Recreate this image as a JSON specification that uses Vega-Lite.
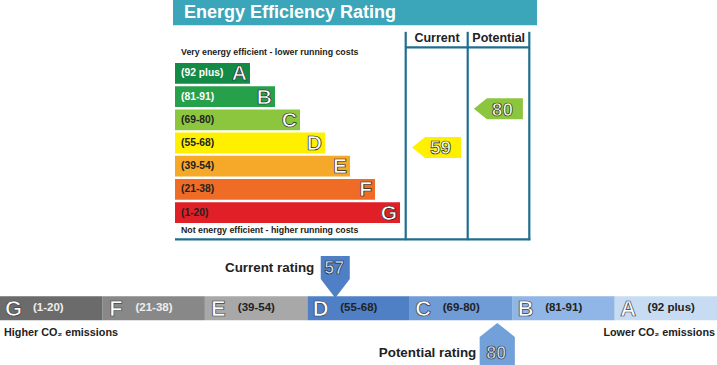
{
  "$schema": "https://vega.github.io/schema/vega-lite/v6.json",
  "width": 717,
  "height": 365,
  "autosize": {"type": "fit", "contains": "padding"},
  "padding": 0,
  "background": "white",
  "config": {
    "view": {"stroke": null},
    "axis": {"disable": true},
    "legend": {"disable": true},
    "font": "Liberation Sans",
    "text": {"font": "Liberation Sans"}
  },
  "datasets": {
    "bands": [
      {"band": "A", "range": "(92 plus)", "length": 75},
      {"band": "B", "range": "(81-91)", "length": 100},
      {"band": "C", "range": "(69-80)", "length": 125},
      {"band": "D", "range": "(55-68)", "length": 150},
      {"band": "E", "range": "(39-54)", "length": 175},
      {"band": "F", "range": "(21-38)", "length": 200},
      {"band": "G", "range": "(1-20)", "length": 225}
    ],
    "efficiency": [
      {"column": "Current", "score": 59, "band": "D"},
      {"column": "Potential", "score": 80, "band": "C"}
    ],
    "environmental": [
      {"kind": "current", "label": "Current rating", "score": 57, "band": "D"},
      {"kind": "potential", "label": "Potential rating", "score": 80, "band": "C"}
    ]
  },
  "resolve": {"scale": {"x": "independent", "y": "independent", "color": "independent", "shape": "independent", "fill": "independent"}},
  "layer": [
    {
      "data": {"values": [{}]},
      "layer": [
        {
          "mark": {"type": "rect", "color": "#3ba6b9"},
          "encoding": {
            "x": {"datum": 173, "type": "quantitative", "scale": {"domain": [0, 717], "nice": false, "zero": false}},
            "x2": {"datum": 537},
            "y": {"datum": 0, "type": "quantitative", "scale": {"domain": [0, 365], "reverse": true, "nice": false, "zero": false}},
            "y2": {"datum": 25.5}
          }
        },
        {
          "mark": {"type": "text", "text": "Energy Efficiency Rating", "align": "left", "baseline": "middle", "fontSize": 18, "fontWeight": "bold", "fill": "white"},
          "encoding": {
            "x": {"datum": 184, "type": "quantitative", "scale": {"domain": [0, 717], "nice": false, "zero": false}},
            "y": {"datum": 13, "type": "quantitative", "scale": {"domain": [0, 365], "reverse": true, "nice": false, "zero": false}}
          }
        },
        {
          "mark": {"type": "rule", "color": "#1f6e91", "strokeWidth": 2.2},
          "encoding": {
            "x": {"datum": 405.7, "type": "quantitative", "scale": {"domain": [0, 717], "nice": false, "zero": false}},
            "y": {"datum": 32, "type": "quantitative", "scale": {"domain": [0, 365], "reverse": true, "nice": false, "zero": false}},
            "y2": {"datum": 241.5}
          }
        },
        {
          "mark": {"type": "rule", "color": "#1f6e91", "strokeWidth": 2.2},
          "encoding": {
            "x": {"datum": 467.7, "type": "quantitative", "scale": {"domain": [0, 717], "nice": false, "zero": false}},
            "y": {"datum": 32, "type": "quantitative", "scale": {"domain": [0, 365], "reverse": true, "nice": false, "zero": false}},
            "y2": {"datum": 241.5}
          }
        },
        {
          "mark": {"type": "rule", "color": "#1f6e91", "strokeWidth": 2.2},
          "encoding": {
            "x": {"datum": 529.3, "type": "quantitative", "scale": {"domain": [0, 717], "nice": false, "zero": false}},
            "y": {"datum": 32, "type": "quantitative", "scale": {"domain": [0, 365], "reverse": true, "nice": false, "zero": false}},
            "y2": {"datum": 241.5}
          }
        },
        {
          "mark": {"type": "rule", "color": "#1f6e91", "strokeWidth": 2.2},
          "encoding": {
            "x": {"datum": 405.7, "type": "quantitative", "scale": {"domain": [0, 717], "nice": false, "zero": false}},
            "x2": {"datum": 529.3},
            "y": {"datum": 47.7, "type": "quantitative", "scale": {"domain": [0, 365], "reverse": true, "nice": false, "zero": false}}
          }
        },
        {
          "mark": {"type": "rule", "color": "#1f6e91", "strokeWidth": 2.2},
          "encoding": {
            "x": {"datum": 175, "type": "quantitative", "scale": {"domain": [0, 717], "nice": false, "zero": false}},
            "x2": {"datum": 530.3},
            "y": {"datum": 240.7, "type": "quantitative", "scale": {"domain": [0, 365], "reverse": true, "nice": false, "zero": false}}
          }
        },
        {
          "mark": {"type": "text", "text": "Current", "align": "center", "baseline": "middle", "fontSize": 12.5, "fontWeight": "bold", "fill": "#222"},
          "encoding": {
            "x": {"datum": 437, "type": "quantitative", "scale": {"domain": [0, 717], "nice": false, "zero": false}},
            "y": {"datum": 38.5, "type": "quantitative", "scale": {"domain": [0, 365], "reverse": true, "nice": false, "zero": false}}
          }
        },
        {
          "mark": {"type": "text", "text": "Potential", "align": "center", "baseline": "middle", "fontSize": 12.5, "fontWeight": "bold", "fill": "#222"},
          "encoding": {
            "x": {"datum": 498.7, "type": "quantitative", "scale": {"domain": [0, 717], "nice": false, "zero": false}},
            "y": {"datum": 38.5, "type": "quantitative", "scale": {"domain": [0, 365], "reverse": true, "nice": false, "zero": false}}
          }
        },
        {
          "mark": {"type": "text", "text": "Very energy efficient - lower running costs", "align": "left", "baseline": "middle", "fontSize": 8.8, "fontWeight": "bold", "fill": "#222"},
          "encoding": {
            "x": {"datum": 181, "type": "quantitative", "scale": {"domain": [0, 717], "nice": false, "zero": false}},
            "y": {"datum": 52.7, "type": "quantitative", "scale": {"domain": [0, 365], "reverse": true, "nice": false, "zero": false}}
          }
        },
        {
          "mark": {"type": "text", "text": "Not energy efficient - higher running costs", "align": "left", "baseline": "middle", "fontSize": 8.8, "fontWeight": "bold", "fill": "#222"},
          "encoding": {
            "x": {"datum": 181, "type": "quantitative", "scale": {"domain": [0, 717], "nice": false, "zero": false}},
            "y": {"datum": 231, "type": "quantitative", "scale": {"domain": [0, 365], "reverse": true, "nice": false, "zero": false}}
          }
        },
        {
          "mark": {"type": "text", "text": "Higher CO₂ emissions", "align": "left", "baseline": "middle", "fontSize": 10.8, "fontWeight": "bold", "fill": "#222"},
          "encoding": {
            "x": {"datum": 4, "type": "quantitative", "scale": {"domain": [0, 717], "nice": false, "zero": false}},
            "y": {"datum": 335, "type": "quantitative", "scale": {"domain": [0, 365], "reverse": true, "nice": false, "zero": false}}
          }
        },
        {
          "mark": {"type": "text", "text": "Lower CO₂ emissions", "align": "right", "baseline": "middle", "fontSize": 10.8, "fontWeight": "bold", "fill": "#222"},
          "encoding": {
            "x": {"datum": 715, "type": "quantitative", "scale": {"domain": [0, 717], "nice": false, "zero": false}},
            "y": {"datum": 335, "type": "quantitative", "scale": {"domain": [0, 365], "reverse": true, "nice": false, "zero": false}}
          }
        }
      ]
    },
    {
      "data": {"name": "bands"},
      "encoding": {
        "y": {"field": "band", "type": "nominal", "scale": {"domain": ["A", "B", "C", "D", "E", "F", "G"], "range": [63, 223], "paddingInner": 0.1, "paddingOuter": 0}}
      },
      "layer": [
        {
          "mark": {"type": "bar"},
          "encoding": {
            "x": {"field": "length", "type": "quantitative", "scale": {"domain": [-175, 542], "nice": false, "zero": false}},
            "color": {"field": "band", "type": "nominal", "scale": {"domain": ["A", "B", "C", "D", "E", "F", "G"], "range": ["#138a46", "#26a04a", "#8cc63f", "#fff000", "#f6a829", "#ee6c25", "#e11f27"]}}
          }
        },
        {
          "mark": {"type": "text", "align": "left", "baseline": "middle", "dx": 6, "fontSize": 10.3, "fontWeight": "bold"},
          "encoding": {
            "x": {"datum": 0, "type": "quantitative", "scale": {"domain": [-175, 542], "nice": false, "zero": false}},
            "text": {"field": "range"},
            "fill": {"condition": {"test": "datum.band === 'A' || datum.band === 'B'", "value": "white"}, "value": "#222"}
          }
        },
        {
          "mark": {"type": "text", "align": "right", "baseline": "middle", "dx": -3, "dy": 1, "fontSize": 21, "fontWeight": "bold", "fill": "white", "stroke": "#222", "strokeWidth": 0.7},
          "encoding": {
            "x": {"field": "length", "type": "quantitative", "scale": {"domain": [-175, 542], "nice": false, "zero": false}},
            "text": {"field": "band"}
          }
        }
      ]
    },
    {
      "data": {"name": "efficiency"},
      "encoding": {
        "x": {"field": "column", "type": "nominal", "scale": {"domain": ["Current", "Potential"], "range": [405.7, 529.3], "paddingInner": 0, "paddingOuter": 0}},
        "y": {"field": "score", "type": "quantitative", "scale": {"domain": [0, 100], "range": [256, 72], "nice": false, "zero": false}}
      },
      "layer": [
        {
          "mark": {"type": "point", "filled": true, "opacity": 1, "size": 2500, "shape": "M-0.98,0L-0.46,-0.42L0.98,-0.42L0.98,0.42L-0.46,0.42Z"},
          "encoding": {
            "color": {"field": "band", "type": "nominal", "scale": {"domain": ["A", "B", "C", "D", "E", "F", "G"], "range": ["#138a46", "#26a04a", "#8cc63f", "#fff000", "#f6a829", "#ee6c25", "#e11f27"]}}
          }
        },
        {
          "mark": {"type": "text", "align": "center", "baseline": "middle", "dx": 4, "dy": 1, "fontSize": 19, "fontWeight": "bold", "fill": "#fbfbe6", "stroke": "#222", "strokeWidth": 0.7},
          "encoding": {"text": {"field": "score"}}
        }
      ]
    },
    {
      "data": {"name": "bands"},
      "encoding": {
        "x": {"field": "band", "type": "nominal", "scale": {"domain": ["G", "F", "E", "D", "C", "B", "A"], "range": [0, 717], "paddingInner": 0, "paddingOuter": 0}}
      },
      "layer": [
        {
          "mark": {"type": "bar"},
          "encoding": {
            "y": {"datum": 298, "type": "quantitative", "scale": {"domain": [0, 365], "reverse": true, "nice": false, "zero": false}},
            "y2": {"datum": 322},
            "color": {"field": "band", "type": "nominal", "scale": {"domain": ["G", "F", "E", "D", "C", "B", "A"], "range": ["#6b6b6b", "#888888", "#a8a8a8", "#4f80c6", "#6f9cd7", "#8fb6e6", "#c7dcf3"]}}
          }
        },
        {
          "mark": {"type": "text", "align": "center", "baseline": "middle", "dx": 13.5, "dy": 1, "fontSize": 22, "fontWeight": "bold", "fill": "white", "stroke": "#3a3a3a", "strokeWidth": 0.7},
          "encoding": {
            "x": {"field": "band", "type": "nominal", "bandPosition": 0, "scale": {"domain": ["G", "F", "E", "D", "C", "B", "A"], "range": [0, 717], "paddingInner": 0, "paddingOuter": 0}},
            "y": {"datum": 310, "type": "quantitative", "scale": {"domain": [0, 365], "reverse": true, "nice": false, "zero": false}},
            "text": {"field": "band"}
          }
        },
        {
          "mark": {"type": "text", "align": "left", "baseline": "middle", "dx": 33, "fontSize": 11.5, "fontWeight": "bold"},
          "encoding": {
            "x": {"field": "band", "type": "nominal", "bandPosition": 0, "scale": {"domain": ["G", "F", "E", "D", "C", "B", "A"], "range": [0, 717], "paddingInner": 0, "paddingOuter": 0}},
            "y": {"datum": 310, "type": "quantitative", "scale": {"domain": [0, 365], "reverse": true, "nice": false, "zero": false}},
            "text": {"field": "range"},
            "fill": {"condition": {"test": "datum.band === 'G' || datum.band === 'F'", "value": "#eeeeee"}, "value": "#222"}
          }
        }
      ]
    },
    {
      "data": {"name": "environmental"},
      "encoding": {
        "x": {"field": "score", "type": "quantitative", "scale": {"domain": [9.4, 111.2], "nice": false, "zero": false}},
        "y": {"field": "kind", "type": "nominal", "scale": {"type": "point", "domain": ["current", "potential"], "range": [268, 353], "padding": 0}}
      },
      "layer": [
        {
          "mark": {"type": "point", "filled": true, "opacity": 1, "size": 1936},
          "encoding": {
            "shape": {"field": "kind", "type": "nominal", "scale": {"domain": ["current", "potential"], "range": ["M-0.66,-0.55L0.66,-0.55L0.66,0.5L0,1.36L-0.66,0.5Z", "M0,-1.36L0.8,-0.73L0.8,0.62L-0.8,0.62L-0.8,-0.73Z"]}},
            "color": {"field": "band", "type": "nominal", "scale": {"domain": ["D", "C"], "range": ["#4f80c6", "#72a0d9"]}}
          }
        },
        {
          "mark": {"type": "text", "align": "center", "baseline": "middle", "dx": -1, "dy": 1, "fontSize": 18, "fontWeight": "bold", "fill": "#cfdcef", "stroke": "#1f2a40", "strokeWidth": 0.7},
          "encoding": {"text": {"field": "score"}}
        },
        {
          "mark": {"type": "text", "align": "right", "baseline": "middle", "dx": -21, "fontSize": 13.4, "fontWeight": "bold", "fill": "#222"},
          "encoding": {"text": {"field": "label"}}
        }
      ]
    }
  ]
}
